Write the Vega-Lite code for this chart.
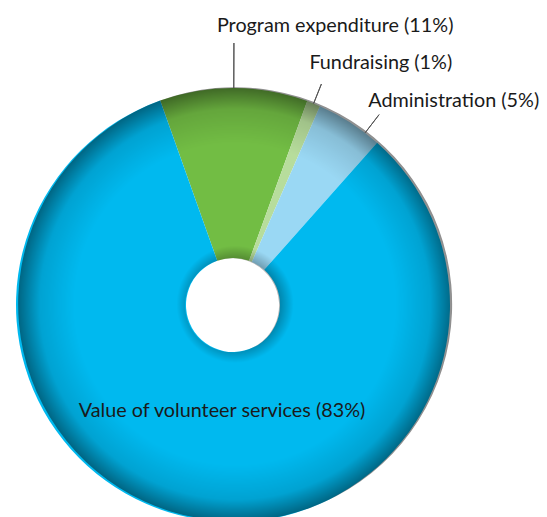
{
  "$schema": "https://vega.github.io/schema/vega-lite/v6.json",
  "width": 466,
  "height": 610,
  "autosize": {"type": "none"},
  "padding": {"left": 0, "top": 0, "right": 81, "bottom": 0},
  "background": "white",
  "config": {"view": {"stroke": null}, "text": {"font": "Lato", "fontSize": 19.8, "fill": "#1a1a1a"}},
  "data": {"values": [
    {"category": "Program expenditure", "label": "Program expenditure (11%)", "value": 11},
    {"category": "Fundraising", "label": "Fundraising (1%)", "value": 1},
    {"category": "Administration", "label": "Administration (5%)", "value": 5},
    {"category": "Value of volunteer services", "label": "Value of volunteer services (83%)", "value": 83}
  ]},
  "transform": [{"window": [{"op": "row_number", "as": "idx"}]}],
  "layer": [
    {
      "mark": {"type": "arc", "innerRadius": 47, "outerRadius": 217},
      "encoding": {
        "theta": {"field": "value", "type": "quantitative", "stack": true, "scale": {"domain": [0, 100], "range": [-0.342, 5.941]}},
        "order": {"field": "idx", "type": "quantitative"},
        "color": {"field": "category", "type": "nominal", "legend": null,
          "scale": {"domain": ["Program expenditure", "Fundraising", "Administration", "Value of volunteer services"],
                    "range": ["#72bd44", "#b7dd9c", "#9ad8f4", "#00b9ef"]}}
      }
    },
    {
      "mark": {"type": "arc", "innerRadius": 47, "outerRadius": 217,
        "fill": {"gradient": "radial", "x1": 0.5, "y1": 0.5, "x2": 0.5, "y2": 0.5, "r1": 0, "r2": 0.5,
          "stops": [
            {"offset": 0.2, "color": "rgba(0,0,0,0.3)"},
            {"offset": 0.27, "color": "rgba(0,0,0,0)"},
            {"offset": 0.74, "color": "rgba(0,0,0,0)"},
            {"offset": 0.9, "color": "rgba(0,0,0,0.12)"},
            {"offset": 1, "color": "rgba(0,0,0,0.45)"}
          ]}},
      "encoding": {
        "theta": {"aggregate": "sum", "field": "value", "type": "quantitative", "stack": true, "scale": {"domain": [0, 100], "range": [-0.342, 5.941]}}
      }
    },
    {
      "mark": {"type": "arc", "innerRadius": 217, "outerRadius": 262, "padAngle": 3.14, "stroke": "#555555", "strokeWidth": 1, "fillOpacity": 0},
      "encoding": {
        "theta": {"field": "value", "type": "quantitative", "stack": true},
        "order": {"field": "idx", "type": "quantitative"},
        "strokeOpacity": {"condition": {"test": "datum.category === 'Program expenditure'", "value": 1}, "value": 0}
      }
    },
    {
      "mark": {"type": "arc", "innerRadius": 217, "outerRadius": 238, "padAngle": 3.14, "stroke": "#555555", "strokeWidth": 1, "fillOpacity": 0},
      "encoding": {
        "theta": {"field": "value", "type": "quantitative", "stack": true},
        "order": {"field": "idx", "type": "quantitative"},
        "strokeOpacity": {"condition": {"test": "datum.category === 'Fundraising'", "value": 1}, "value": 0}
      }
    },
    {
      "mark": {"type": "arc", "innerRadius": 217, "outerRadius": 240, "padAngle": 3.14, "thetaOffset": 0.0855, "theta2Offset": 0.0855, "stroke": "#555555", "strokeWidth": 1, "fillOpacity": 0},
      "encoding": {
        "theta": {"field": "value", "type": "quantitative", "stack": true},
        "order": {"field": "idx", "type": "quantitative"},
        "strokeOpacity": {"condition": {"test": "datum.category === 'Administration'", "value": 1}, "value": 0}
      }
    },
    {
      "mark": {"type": "text", "radius": 262, "align": "left", "baseline": "alphabetic", "dx": -17, "dy": -11},
      "encoding": {
        "theta": {"field": "value", "type": "quantitative", "stack": true},
        "order": {"field": "idx", "type": "quantitative"},
        "text": {"field": "label", "type": "nominal", "condition": {"test": "datum.category !== 'Program expenditure'", "value": ""}}
      }
    },
    {
      "mark": {"type": "text", "radius": 238, "align": "left", "baseline": "alphabetic", "dx": -12, "dy": -15},
      "encoding": {
        "theta": {"field": "value", "type": "quantitative", "stack": true},
        "order": {"field": "idx", "type": "quantitative"},
        "text": {"field": "label", "type": "nominal", "condition": {"test": "datum.category !== 'Fundraising'", "value": ""}}
      }
    },
    {
      "mark": {"type": "text", "radius": 240, "align": "left", "baseline": "alphabetic", "dx": 6, "dy": 4},
      "encoding": {
        "theta": {"field": "value", "type": "quantitative", "stack": true},
        "order": {"field": "idx", "type": "quantitative"},
        "text": {"field": "label", "type": "nominal", "condition": {"test": "datum.category !== 'Administration'", "value": ""}}
      }
    },
    {
      "mark": {"type": "text", "radius": 110, "align": "center", "baseline": "alphabetic", "dx": 10, "dy": 4},
      "encoding": {
        "theta": {"field": "value", "type": "quantitative", "stack": true},
        "order": {"field": "idx", "type": "quantitative"},
        "text": {"field": "label", "type": "nominal", "condition": {"test": "datum.category !== 'Value of volunteer services'", "value": ""}}
      }
    }
  ]
}
